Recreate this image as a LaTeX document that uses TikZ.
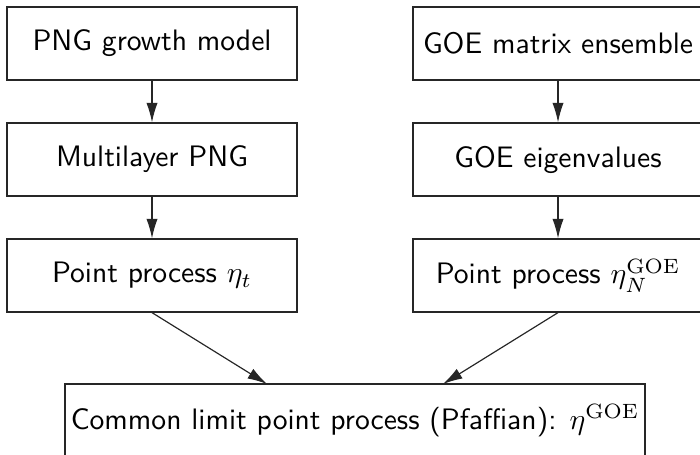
\documentclass[tikz,border=0pt]{standalone}
\usetikzlibrary{arrows.meta}
\begin{document}
\begin{tikzpicture}[x=0.338pt,y=-0.338pt,
  box/.style={draw=black!85,line width=0.4pt,minimum width=98pt,minimum height=24.7pt,inner sep=0pt,font=\sffamily,anchor=center},
  wide/.style={box,minimum width=196pt},
  arr/.style={draw=black!85,line width=0.4pt,-{Latex[length=6.6pt,width=3.8pt]}}]
\useasboundingbox (0,0) rectangle (700,455);
\node[box] (a1) at (152,43.5) {PNG growth model};
\node[box] (a2) at (152,159.5) {Multilayer PNG};
\node[box] (a3) at (152,275.5) {Point process $\eta_t$};
\node[box] (b1) at (558,43.5) {GOE matrix ensemble};
\node[box] (b2) at (558,159.5) {GOE eigenvalues};
\node[box] (b3) at (558,275.5) {Point process $\eta_N^{\mathrm{GOE}}$};
\node[wide] (c) at (355,420.5) {Common limit point process (Pfaffian): $\eta^{\mathrm{GOE}}$};
\coordinate (t1) at (267,384);
\coordinate (t2) at (443,384);
\draw[arr] (a1.south) -- (a2.north);
\draw[arr] (a2.south) -- (a3.north);
\draw[arr] (b1.south) -- (b2.north);
\draw[arr] (b2.south) -- (b3.north);
\draw[arr] (a3.south) -- (t1);
\draw[arr] (b3.south) -- (t2);
\end{tikzpicture}
\end{document}
